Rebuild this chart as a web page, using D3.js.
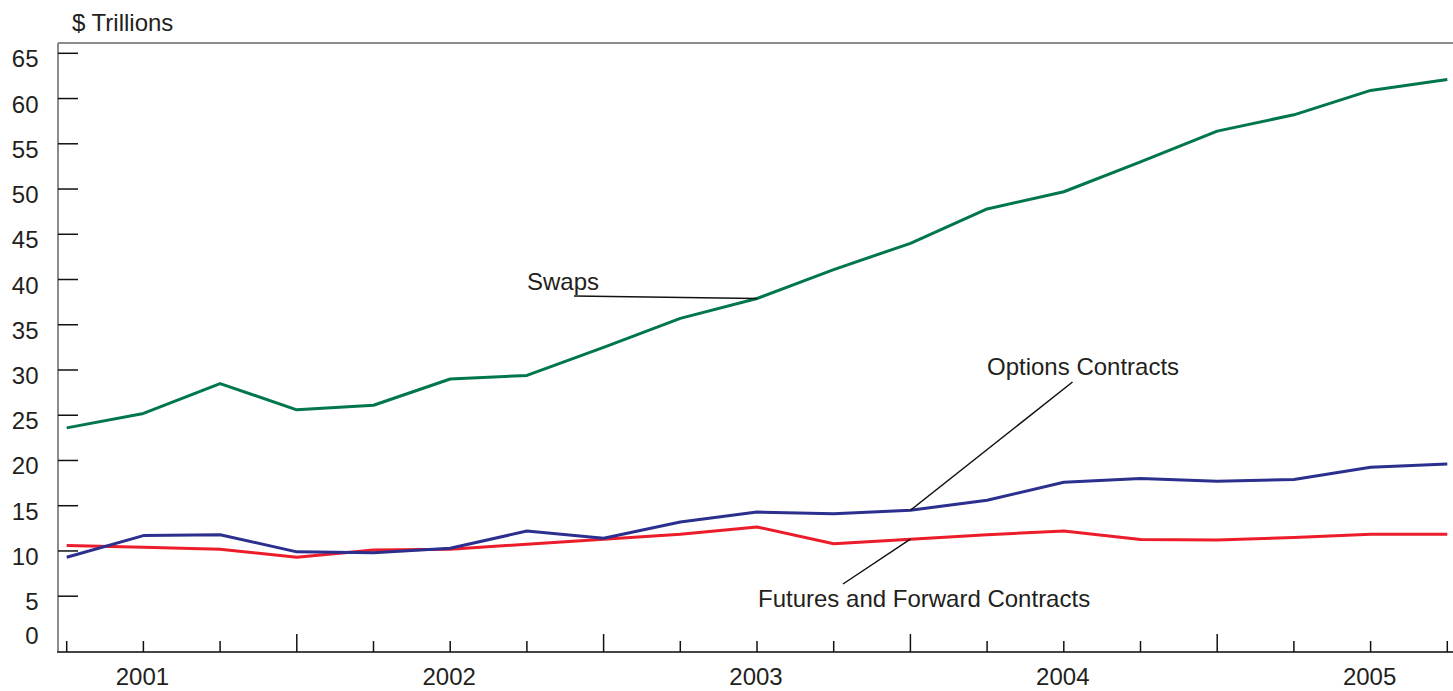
<!DOCTYPE html>
<html>
<head>
<meta charset="utf-8">
<script src="https://cdn.jsdelivr.net/npm/d3@7"></script>
<style>
  html, body { margin: 0; padding: 0; background: #fff; }
  svg { display: block; font-family: "Liberation Sans", Arial, Helvetica, sans-serif; }
</style>
</head>
<body>
<svg id="chart" width="1453" height="691"></svg>
<script>
// ---- Data ----
const quarters = [
  "2001Q1","2001Q2","2001Q3","2001Q4",
  "2002Q1","2002Q2","2002Q3","2002Q4",
  "2003Q1","2003Q2","2003Q3","2003Q4",
  "2004Q1","2004Q2","2004Q3","2004Q4",
  "2005Q1","2005Q2","2005Q3"
];
const swaps = [23.6, 25.2, 28.5, 25.6, 26.1, 29.0, 29.4, 32.5, 35.7, 37.9,
               41.1, 44.0, 47.8, 49.7, 53.0, 56.4, 58.2, 60.9, 62.1];
const options = [9.3, 11.7, 11.8, 9.9, 9.8, 10.3, 12.2, 11.4, 13.2, 14.3,
                 14.1, 14.5, 15.6, 17.6, 18.0, 17.7, 17.9, 19.25, 19.6];
const futures = [10.6, 10.4, 10.2, 9.3, 10.1, 10.2, 10.75, 11.3, 11.85, 12.65,
                 10.8, 11.3, 11.8, 12.2, 11.27, 11.2, 11.5, 11.85, 11.85];
const yTicks = [0, 5, 10, 15, 20, 25, 30, 35, 40, 45, 50, 55, 60, 65];
const years = ["2001", "2002", "2003", "2004", "2005"];
const yearBoundaryQuarters = ["2001Q4", "2002Q4", "2003Q4", "2004Q4"];
const unitLabel = "$ Trillions";

// ---- Layout ----
const svg = d3.select("#chart");
const frameLeft = 58, frameRight = 1453, frameTop = 43, frameBottom = 652;
const fs = 24;

const x = d3.scalePoint().domain(quarters).range([66.7, 1447.3]).padding(0);
const step = x.step();
const y = d3.scaleLinear().domain([5, 65]).range([596.2, 53.3]);

const colors = { swaps: "#00764b", options: "#2b2f8e", futures: "#ec1c2a" };

// Frame: left & top gray, bottom dark
svg.append("line").attr("x1", frameLeft).attr("x2", frameLeft)
  .attr("y1", frameTop).attr("y2", frameBottom)
  .attr("stroke", "#8c8c8c").attr("stroke-width", 2);
svg.append("line").attr("x1", frameLeft).attr("x2", frameRight)
  .attr("y1", frameTop).attr("y2", frameTop)
  .attr("stroke", "#8c8c8c").attr("stroke-width", 2);
svg.append("line").attr("x1", frameLeft - 1).attr("x2", frameRight)
  .attr("y1", frameBottom).attr("y2", frameBottom)
  .attr("stroke", "#444").attr("stroke-width", 2);

// Y axis ticks (inward) and labels
const yAxisG = svg.append("g");
yTicks.forEach(v => {
  if (v > 0) {
    yAxisG.append("line")
      .attr("x1", frameLeft).attr("x2", frameLeft + 20)
      .attr("y1", y(v)).attr("y2", y(v))
      .attr("stroke", "#111").attr("stroke-width", 1.5);
  }
  yAxisG.append("text")
    .attr("x", 38.5)
    .attr("y", v > 0 ? y(v) + 5.5 : y(v) - 5.5)
    .attr("text-anchor", "end")
    .attr("dominant-baseline", "central")
    .attr("font-size", fs)
    .attr("fill", "#231f20")
    .text(v);
});

// Unit label
svg.append("text").attr("x", 72).attr("y", 31)
  .attr("font-size", fs).attr("fill", "#231f20").text(unitLabel);

// X ticks
const xAxisG = svg.append("g");
quarters.forEach(q => {
  const long = yearBoundaryQuarters.includes(q);
  xAxisG.append("line")
    .attr("x1", x(q)).attr("x2", x(q))
    .attr("y1", frameBottom).attr("y2", frameBottom - (long ? 18 : 11))
    .attr("stroke", "#111").attr("stroke-width", 1.5);
});
// Year labels centred in each year span (Dec prior year to Dec of year)
years.forEach(yr => {
  const q4 = yr + "Q4";
  const end = x(q4) !== undefined ? x(q4) : x(yr + "Q1") + 3 * step;
  const center = end - 2 * step - 1;
  xAxisG.append("text")
    .attr("x", center).attr("y", 685)
    .attr("text-anchor", "middle")
    .attr("font-size", fs).attr("fill", "#231f20")
    .text(yr);
});

// Lines
const lineGen = d3.line().x((d, i) => x(quarters[i])).y(d => y(d));
[["futures", futures], ["options", options], ["swaps", swaps]].forEach(([k, arr]) => {
  svg.append("path").datum(arr)
    .attr("d", lineGen)
    .attr("fill", "none")
    .attr("stroke", colors[k])
    .attr("stroke-width", 3)
    .attr("stroke-linejoin", "round");
});

// Annotations
const ann = svg.append("g").attr("font-size", fs).attr("fill", "#231f20");
const iSw = quarters.indexOf("2003Q2");
ann.append("text").attr("x", 527).attr("y", 290).text("Swaps");
svg.append("line").attr("x1", 574).attr("y1", 296)
  .attr("x2", x(quarters[iSw])).attr("y2", y(swaps[iSw]))
  .attr("stroke", "#111").attr("stroke-width", 1.5);

const iOp = quarters.indexOf("2003Q4");
ann.append("text").attr("x", 987).attr("y", 375).text("Options Contracts");
svg.append("line").attr("x1", 1072.5).attr("y1", 382)
  .attr("x2", x(quarters[iOp])).attr("y2", y(options[iOp]))
  .attr("stroke", "#111").attr("stroke-width", 1.5);

ann.append("text").attr("x", 758).attr("y", 607).text("Futures and Forward Contracts");
svg.append("line").attr("x1", 843).attr("y1", 584)
  .attr("x2", x(quarters[iOp])).attr("y2", y(futures[iOp]))
  .attr("stroke", "#111").attr("stroke-width", 1.5);
</script>
</body>
</html>
